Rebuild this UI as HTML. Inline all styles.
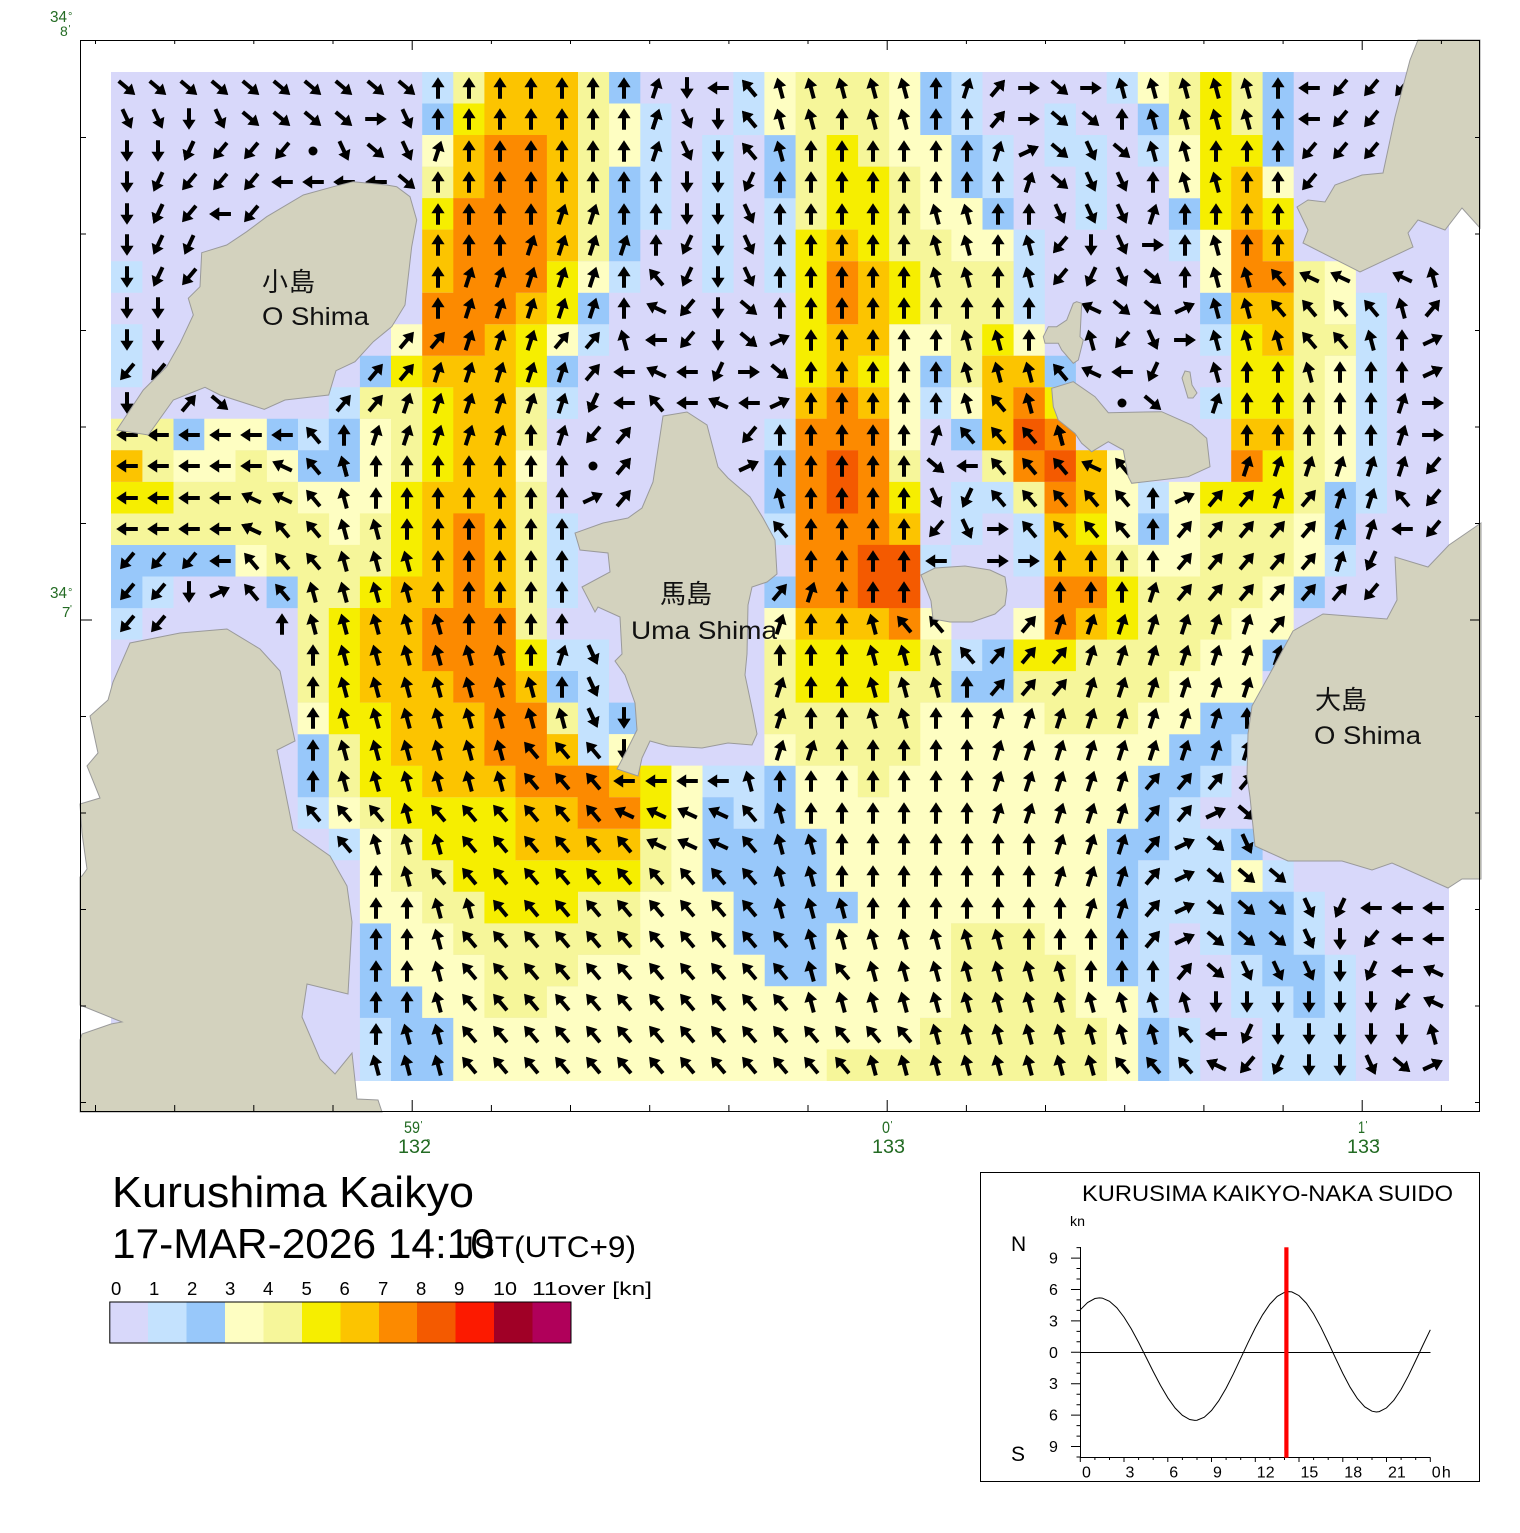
<!DOCTYPE html>
<html><head><meta charset="utf-8"><style>
html,body{margin:0;padding:0;background:#fff;}
svg{display:block;}
text{font-family:"Liberation Sans","Noto Sans CJK JP",sans-serif;}
.c{fill:none;stroke-width:31.6;stroke-linecap:butt;}
.ar{fill:none;stroke:none;}
</style></head><body>
<svg width="1520" height="1533" viewBox="0 0 1520 1533" xmlns="http://www.w3.org/2000/svg">
<defs>
<path id="ah" d="M0-10.8L6.6-.8H2V10.8H-2V-.8H-6.6Z"/>
<marker id="m8" markerUnits="userSpaceOnUse" orient="0" overflow="visible" viewBox="-15 -15 30 30" markerWidth="30" markerHeight="30" refX="0" refY="0"><use href="#ah" fill="#000"/></marker>
<marker id="m9" markerUnits="userSpaceOnUse" orient="0" overflow="visible" viewBox="-15 -15 30 30" markerWidth="30" markerHeight="30" refX="0" refY="0"><use href="#ah" fill="#000" transform="rotate(40)"/></marker>
<marker id="m6" markerUnits="userSpaceOnUse" orient="0" overflow="visible" viewBox="-15 -15 30 30" markerWidth="30" markerHeight="30" refX="0" refY="0"><use href="#ah" fill="#000" transform="rotate(90)"/></marker>
<marker id="m3" markerUnits="userSpaceOnUse" orient="0" overflow="visible" viewBox="-15 -15 30 30" markerWidth="30" markerHeight="30" refX="0" refY="0"><use href="#ah" fill="#000" transform="rotate(130)"/></marker>
<marker id="m2" markerUnits="userSpaceOnUse" orient="0" overflow="visible" viewBox="-15 -15 30 30" markerWidth="30" markerHeight="30" refX="0" refY="0"><use href="#ah" fill="#000" transform="rotate(180)"/></marker>
<marker id="m1" markerUnits="userSpaceOnUse" orient="0" overflow="visible" viewBox="-15 -15 30 30" markerWidth="30" markerHeight="30" refX="0" refY="0"><use href="#ah" fill="#000" transform="rotate(220)"/></marker>
<marker id="m4" markerUnits="userSpaceOnUse" orient="0" overflow="visible" viewBox="-15 -15 30 30" markerWidth="30" markerHeight="30" refX="0" refY="0"><use href="#ah" fill="#000" transform="rotate(270)"/></marker>
<marker id="m7" markerUnits="userSpaceOnUse" orient="0" overflow="visible" viewBox="-15 -15 30 30" markerWidth="30" markerHeight="30" refX="0" refY="0"><use href="#ah" fill="#000" transform="rotate(320)"/></marker>
<marker id="mr" markerUnits="userSpaceOnUse" orient="0" overflow="visible" viewBox="-15 -15 30 30" markerWidth="30" markerHeight="30" refX="0" refY="0"><use href="#ah" fill="#000" transform="rotate(18)"/></marker>
<marker id="ml" markerUnits="userSpaceOnUse" orient="0" overflow="visible" viewBox="-15 -15 30 30" markerWidth="30" markerHeight="30" refX="0" refY="0"><use href="#ah" fill="#000" transform="rotate(-15)"/></marker>
<marker id="ma" markerUnits="userSpaceOnUse" orient="0" overflow="visible" viewBox="-15 -15 30 30" markerWidth="30" markerHeight="30" refX="0" refY="0"><use href="#ah" fill="#000" transform="rotate(-65)"/></marker>
<marker id="mb" markerUnits="userSpaceOnUse" orient="0" overflow="visible" viewBox="-15 -15 30 30" markerWidth="30" markerHeight="30" refX="0" refY="0"><use href="#ah" fill="#000" transform="rotate(65)"/></marker>
<marker id="ms" markerUnits="userSpaceOnUse" orient="0" overflow="visible" viewBox="-15 -15 30 30" markerWidth="30" markerHeight="30" refX="0" refY="0"><use href="#ah" fill="#000" transform="rotate(155)"/></marker>
<marker id="mt" markerUnits="userSpaceOnUse" orient="0" overflow="visible" viewBox="-15 -15 30 30" markerWidth="30" markerHeight="30" refX="0" refY="0"><use href="#ah" fill="#000" transform="rotate(205)"/></marker>
</defs>
<rect x="0" y="0" width="1520" height="1533" fill="#fff"/>
<rect x="111" y="72" width="1338" height="1009" fill="#d8d8fa"/>
<!-- color 1 -->
<path class="c" stroke="#c4e2fe" d="M422.2 87.8h31.4M733.3 87.8h31.4M951.1 87.8h31.4M1106.7 87.8h31.4
M640 119.3h31.4M733.3 119.3h31.4M951.1 119.3h31.4M1044.5 119.3h31.4
M640 150.8h31.4M702.2 150.8h31.4M982.2 150.8h31.4M1044.5 150.8h62.5M1137.8 150.8h31.4
M640 182.4h31.4M702.2 182.4h31.4M982.2 182.4h31.4M1075.6 182.4h31.4
M640 213.9h31.4M702.2 213.9h31.4M764.4 213.9h31.4M1075.6 213.9h31.4
M702.2 245.4h31.4M764.4 245.4h31.4M1013.4 245.4h31.4M1168.9 245.4h31.4
M111 277h31.4M608.9 277h31.4M702.2 277h31.4M764.4 277h31.4M1013.4 277h31.4
M1013.4 308.5h31.4M1355.6 308.5h31.4
M111 340h31.4M577.7 340h31.4M1200.1 340h31.4M1355.6 340h31.4
M111 371.5h31.4M1355.6 371.5h31.4
M328.8 403.1h31.4M546.6 403.1h31.4M920 403.1h31.4M1200.1 403.1h31.4M1355.6 403.1h31.4
M297.7 434.6h31.4M764.4 434.6h31.4M1355.6 434.6h31.4
M1355.6 466.1h31.4
M951.1 497.7h62.5M1137.8 497.7h31.4M1355.6 497.7h31.4
M546.6 529.2h31.4M764.4 529.2h31.4M951.1 529.2h31.4M1013.4 529.2h31.4
M546.6 560.7h31.4M920 560.7h31.4M1013.4 560.7h31.4M1324.5 560.7h31.4
M142.1 592.3h31.4M546.6 592.3h31.4
M111 623.8h31.4
M546.6 655.3h62.5M951.1 655.3h31.4
M577.7 686.8h31.4
M577.7 718.4h31.4
M577.7 749.9h31.4M1231.2 749.9h31.4
M702.2 781.4h62.5M1200.1 781.4h31.4
M297.7 813h31.4M733.3 813h31.4M1168.9 813h31.4
M328.8 844.5h31.4M1168.9 844.5h62.5
M1137.8 876h93.6M1262.3 876h31.4
M1137.8 907.6h93.6M1293.4 907.6h31.4
M1137.8 939.1h31.4M1200.1 939.1h31.4M1293.4 939.1h31.4
M1137.8 970.6h31.4M1231.2 970.6h31.4M1324.5 970.6h31.4
M1137.8 1002.1h31.4M1231.2 1002.1h62.5M1324.5 1002.1h31.4
M359.9 1033.7h31.4M1168.9 1033.7h31.4M1262.3 1033.7h93.6
M359.9 1065.2h31.4M1168.9 1065.2h31.4M1262.3 1065.2h93.6"/>
<!-- color 2 -->
<path class="c" stroke="#98c8fa" d="M608.9 87.8h31.4M920 87.8h31.4M1262.3 87.8h31.4
M422.2 119.3h31.4M920 119.3h31.4M1137.8 119.3h31.4M1262.3 119.3h31.4
M764.4 150.8h31.4M951.1 150.8h31.4M1262.3 150.8h31.4
M608.9 182.4h31.4M764.4 182.4h31.4M951.1 182.4h31.4
M608.9 213.9h31.4M982.2 213.9h31.4M1168.9 213.9h31.4
M608.9 245.4h31.4
M577.7 308.5h31.4M1200.1 308.5h31.4
M359.9 371.5h31.4M546.6 371.5h31.4M920 371.5h31.4M1044.5 371.5h31.4
M173.2 434.6h31.4M266.6 434.6h31.4M328.8 434.6h31.4M951.1 434.6h31.4
M297.7 466.1h62.5M764.4 466.1h31.4
M764.4 497.7h31.4M1324.5 497.7h31.4
M1137.8 529.2h31.4M1324.5 529.2h31.4
M111 560.7h124.7
M111 592.3h31.4M266.6 592.3h31.4M764.4 592.3h31.4M1293.4 592.3h31.4
M982.2 655.3h31.4M1262.3 655.3h31.4
M546.6 686.8h31.4M951.1 686.8h62.5
M608.9 718.4h31.4M1200.1 718.4h62.5
M297.7 749.9h31.4M1168.9 749.9h62.5
M297.7 781.4h31.4M764.4 781.4h31.4M1137.8 781.4h62.5
M702.2 813h31.4M764.4 813h31.4M1137.8 813h31.4
M702.2 844.5h124.7M1106.7 844.5h62.5M1231.2 844.5h31.4
M702.2 876h124.7M1106.7 876h31.4
M733.3 907.6h124.7M1106.7 907.6h31.4M1231.2 907.6h62.5
M359.9 939.1h31.4M733.3 939.1h93.6M1106.7 939.1h31.4M1231.2 939.1h62.5
M359.9 970.6h31.4M764.4 970.6h62.5M1106.7 970.6h31.4M1262.3 970.6h62.5
M359.9 1002.1h62.5M1293.4 1002.1h31.4
M391 1033.7h62.5M1137.8 1033.7h31.4
M391 1065.2h62.5M1137.8 1065.2h31.4"/>
<!-- color 3 -->
<path class="c" stroke="#fefec2" d="M764.4 87.8h31.4M888.9 87.8h31.4M1137.8 87.8h31.4
M608.9 119.3h31.4M764.4 119.3h31.4M888.9 119.3h31.4
M422.2 150.8h31.4M608.9 150.8h31.4M888.9 150.8h62.5M1168.9 150.8h31.4
M920 182.4h31.4M1168.9 182.4h31.4M1262.3 182.4h31.4
M920 213.9h62.5
M951.1 245.4h62.5M1200.1 245.4h31.4
M577.7 277h31.4M1200.1 277h31.4M1324.5 277h31.4
M1324.5 308.5h31.4
M391 340h31.4M546.6 340h31.4M888.9 340h62.5M1013.4 340h31.4
M888.9 371.5h31.4M1324.5 371.5h31.4
M888.9 403.1h31.4M951.1 403.1h31.4M1324.5 403.1h31.4
M204.3 434.6h62.5M359.9 434.6h31.4M888.9 434.6h31.4M1324.5 434.6h31.4
M173.2 466.1h62.5M266.6 466.1h31.4M359.9 466.1h31.4M515.5 466.1h31.4M1106.7 466.1h31.4M1324.5 466.1h31.4
M297.7 497.7h93.6M1106.7 497.7h31.4M1168.9 497.7h31.4
M328.8 529.2h31.4M1106.7 529.2h31.4M1168.9 529.2h31.4M1293.4 529.2h31.4
M235.5 560.7h31.4M1137.8 560.7h62.5M1293.4 560.7h31.4
M1262.3 592.3h31.4
M764.4 623.8h31.4M920 623.8h31.4M1013.4 623.8h31.4M1231.2 623.8h62.5
M1200.1 655.3h62.5
M1168.9 686.8h93.6
M297.7 718.4h31.4M920 718.4h124.7M1137.8 718.4h62.5
M608.9 749.9h31.4M764.4 749.9h31.4M920 749.9h249.2
M671.1 781.4h31.4M795.6 781.4h62.5M888.9 781.4h249.2
M328.8 813h31.4M671.1 813h31.4M795.6 813h342.6
M359.9 844.5h31.4M671.1 844.5h31.4M826.7 844.5h280.3
M359.9 876h31.4M671.1 876h31.4M826.7 876h280.3M1231.2 876h31.4
M359.9 907.6h62.5M640 907.6h93.6M857.8 907.6h249.2
M391 939.1h62.5M640 939.1h93.6M826.7 939.1h124.7M1044.5 939.1h62.5
M391 970.6h93.6M577.7 970.6h187M826.7 970.6h124.7M1075.6 970.6h31.4
M422.2 1002.1h62.5M546.6 1002.1h404.8M1075.6 1002.1h62.5
M453.3 1033.7h467M1106.7 1033.7h31.4
M453.3 1065.2h373.7M1106.7 1065.2h31.4"/>
<!-- color 4 -->
<path class="c" stroke="#f6f69a" d="M453.3 87.8h31.4M577.7 87.8h31.4M795.6 87.8h93.6M1168.9 87.8h31.4M1231.2 87.8h31.4
M577.7 119.3h31.4M795.6 119.3h93.6M1168.9 119.3h31.4M1231.2 119.3h31.4
M577.7 150.8h31.4M795.6 150.8h31.4M857.8 150.8h31.4
M422.2 182.4h31.4M577.7 182.4h31.4M795.6 182.4h31.4M888.9 182.4h31.4
M577.7 213.9h31.4M795.6 213.9h31.4M888.9 213.9h31.4
M577.7 245.4h31.4M888.9 245.4h62.5
M920 277h93.6M1293.4 277h31.4
M920 308.5h93.6M1293.4 308.5h31.4
M951.1 340h31.4M1293.4 340h62.5
M951.1 371.5h31.4M1293.4 371.5h31.4
M359.9 403.1h62.5M515.5 403.1h31.4M1293.4 403.1h31.4
M111 434.6h62.5M391 434.6h31.4M515.5 434.6h31.4M1293.4 434.6h31.4
M142.1 466.1h31.4M235.5 466.1h31.4M391 466.1h31.4M888.9 466.1h31.4M982.2 466.1h31.4M1293.4 466.1h31.4
M173.2 497.7h124.7M515.5 497.7h31.4M1013.4 497.7h31.4M1293.4 497.7h31.4
M111 529.2h218.1M359.9 529.2h31.4M515.5 529.2h31.4M1200.1 529.2h93.6
M266.6 560.7h124.7M515.5 560.7h31.4M1106.7 560.7h31.4M1200.1 560.7h93.6
M297.7 592.3h62.5M515.5 592.3h31.4M1137.8 592.3h124.7
M297.7 623.8h31.4M515.5 623.8h31.4M1137.8 623.8h93.6
M297.7 655.3h31.4M764.4 655.3h31.4M920 655.3h31.4M1075.6 655.3h124.7
M297.7 686.8h31.4M764.4 686.8h31.4M888.9 686.8h62.5M1013.4 686.8h155.9
M546.6 718.4h31.4M764.4 718.4h155.9M1044.5 718.4h93.6
M328.8 749.9h31.4M795.6 749.9h124.7
M328.8 781.4h31.4M857.8 781.4h31.4
M359.9 813h31.4
M391 844.5h31.4M640 844.5h31.4
M391 876h62.5M640 876h31.4
M422.2 907.6h62.5M577.7 907.6h62.5
M453.3 939.1h187M951.1 939.1h93.6
M484.4 970.6h93.6M951.1 970.6h124.7
M484.4 1002.1h62.5M951.1 1002.1h124.7
M920 1033.7h187
M826.7 1065.2h280.3"/>
<!-- color 5 -->
<path class="c" stroke="#f6ee00" d="M1200.1 87.8h31.4
M453.3 119.3h31.4M1200.1 119.3h31.4
M826.7 150.8h31.4M1200.1 150.8h62.5
M826.7 182.4h62.5M1200.1 182.4h31.4
M422.2 213.9h31.4M826.7 213.9h62.5M1200.1 213.9h31.4M1262.3 213.9h31.4
M795.6 245.4h31.4M857.8 245.4h31.4
M546.6 277h31.4M795.6 277h31.4M888.9 277h31.4
M546.6 308.5h31.4M795.6 308.5h31.4M888.9 308.5h31.4
M515.5 340h31.4M795.6 340h31.4M982.2 340h31.4M1231.2 340h31.4
M391 371.5h31.4M515.5 371.5h31.4M795.6 371.5h31.4M857.8 371.5h31.4M1231.2 371.5h62.5
M422.2 403.1h31.4M1044.5 403.1h31.4M1231.2 403.1h62.5
M422.2 434.6h31.4
M422.2 466.1h31.4M1262.3 466.1h31.4
M111 497.7h62.5M391 497.7h31.4M888.9 497.7h31.4M1200.1 497.7h93.6
M391 529.2h31.4M1075.6 529.2h31.4
M391 560.7h31.4
M359.9 592.3h31.4M1106.7 592.3h31.4
M328.8 623.8h31.4M1106.7 623.8h31.4
M328.8 655.3h31.4M515.5 655.3h31.4M795.6 655.3h124.7M1013.4 655.3h62.5
M328.8 686.8h31.4M795.6 686.8h93.6
M328.8 718.4h62.5
M359.9 749.9h31.4
M359.9 781.4h62.5M640 781.4h31.4
M391 813h124.7M640 813h31.4
M422.2 844.5h93.6
M453.3 876h187
M484.4 907.6h93.6"/>
<!-- color 6 -->
<path class="c" stroke="#fcc400" d="M484.4 87.8h93.6
M484.4 119.3h93.6
M453.3 150.8h31.4M546.6 150.8h31.4
M453.3 182.4h31.4M546.6 182.4h31.4M1231.2 182.4h31.4
M546.6 213.9h31.4M1231.2 213.9h31.4
M422.2 245.4h31.4M546.6 245.4h31.4M826.7 245.4h31.4M1262.3 245.4h31.4
M422.2 277h31.4M857.8 277h31.4
M515.5 308.5h31.4M857.8 308.5h31.4M1231.2 308.5h62.5
M484.4 340h31.4M826.7 340h62.5M1262.3 340h31.4
M422.2 371.5h93.6M826.7 371.5h31.4M982.2 371.5h62.5
M453.3 403.1h62.5M795.6 403.1h31.4M857.8 403.1h31.4M982.2 403.1h31.4
M453.3 434.6h62.5M982.2 434.6h31.4M1231.2 434.6h62.5
M111 466.1h31.4M453.3 466.1h62.5M1075.6 466.1h31.4
M422.2 497.7h93.6M1075.6 497.7h31.4
M422.2 529.2h31.4M484.4 529.2h31.4M888.9 529.2h31.4M1044.5 529.2h31.4
M422.2 560.7h31.4M484.4 560.7h31.4M1044.5 560.7h62.5
M391 592.3h62.5M484.4 592.3h31.4
M359.9 623.8h62.5M795.6 623.8h93.6M1075.6 623.8h31.4
M359.9 655.3h62.5
M359.9 686.8h93.6M515.5 686.8h31.4
M391 718.4h93.6
M391 749.9h93.6M546.6 749.9h31.4
M422.2 781.4h93.6M608.9 781.4h31.4
M515.5 813h62.5
M515.5 844.5h124.7"/>
<!-- color 7 -->
<path class="c" stroke="#fc8a00" d="M484.4 150.8h62.5
M484.4 182.4h62.5
M453.3 213.9h93.6
M453.3 245.4h93.6M1231.2 245.4h31.4
M453.3 277h93.6M826.7 277h31.4M1231.2 277h62.5
M422.2 308.5h93.6M826.7 308.5h31.4
M422.2 340h62.5
M826.7 403.1h31.4M1013.4 403.1h31.4
M795.6 434.6h93.6M1044.5 434.6h31.4
M795.6 466.1h31.4M857.8 466.1h31.4M1013.4 466.1h31.4M1231.2 466.1h31.4
M795.6 497.7h31.4M857.8 497.7h31.4M1044.5 497.7h31.4
M453.3 529.2h31.4M795.6 529.2h93.6
M453.3 560.7h31.4M795.6 560.7h62.5
M453.3 592.3h31.4M795.6 592.3h62.5M1044.5 592.3h62.5
M422.2 623.8h93.6M888.9 623.8h31.4M1044.5 623.8h31.4
M422.2 655.3h93.6
M453.3 686.8h62.5
M484.4 718.4h62.5
M484.4 749.9h62.5
M515.5 781.4h93.6
M577.7 813h62.5"/>
<!-- color 8 -->
<path class="c" stroke="#f45a00" d="M1013.4 434.6h31.4M826.7 466.1h31.4M1044.5 466.1h31.4M826.7 497.7h31.4M857.8 560.7h62.5M857.8 592.3h62.5"/>
<!-- arrows -->
<path class="ar" marker-start="url(#m8)" marker-mid="url(#m8)" marker-end="url(#m8)" d="M438 88H469 500 531 562 593 624 936 1278M438 119H469 500 531 562 593 624 842 936 967 1122 1278M469 151H500 531 562 593 624 811 842 873 904 936 967 1216 1247 1278M438 182H469 500 531 562 593 624 656 780 811 842 873 904 936 967 998 1153 1247 1278M438 214H469 500 531 624 656 780 811 842 873 904 998 1029 1185 1216 1247 1278M438 245H469 500 656 780 811 842 873 904 998 1185 1247 1278M438 277H624 780 811 842 873 904 998 1185M438 308H624 780 811 842 873 904 936 967 998 1029M811 340H842 873 904 936 1029 1402M811 372H842 873 904 936 1247 1278 1340 1371 1402M811 403H842 873 904 936 1247 1278 1309 1340 1371M344 435H531 780 811 842 873 904 1247 1278 1309 1340 1371M376 466H407 438 469 500 531 562 780 811 842 873 904M376 498H407 438 469 500 531 562 811 842 873 904 1153M407 529H438 469 500 531 562 811 842 873 904 1153M438 561H469 500 531 562 811 842 873 904 1060 1091 1122 1153M438 592H469 500 531 562 842 873 904 1060 1091 1122M282 624H469 500 531 562 811 842M313 655H531 780 811 842M313 687H562 811 842 967M313 718H811 842 936 967 1247M313 750H842 873 904 936 967M313 781H780 811 842 873 904 936 967M811 813H842 873 904 936 967M842 844H873 904 936 967 998 1029M376 876H842 873 904 936 967 998 1029M376 908H407 873 904 936 967 998 1029 1060M376 939H407 1029 1060 1091 1122M376 971H407 1091 1122 1153M376 1002H407M376 1034h0"/>
<path class="ar" marker-start="url(#m9)" marker-mid="url(#m9)" marker-end="url(#m9)" d="M998 88h0M998 119h0M1433 308h0M407 340H438 562 593M376 372H407 593M189 403H344 376M624 435h0M624 466h0M624 498H1216 1247 1309M1185 529H1216 1247 1278 1309M1185 561H1216 1247 1278 1309M780 592H1185 1216 1247 1278 1309 1340M1029 624H1278M998 655H1029 1060M998 687H1029 1060M1153 781H1185 1216 1247M1153 813H1185M1153 844h0M1153 876h0M1153 908h0M1153 939h0M1185 971h0"/>
<path class="ar" marker-start="url(#m6)" marker-mid="url(#m6)" marker-end="url(#m6)" d="M1029 88H1091M376 119H1029M1153 245h0M1185 340h0M749 372h0M1433 403h0M1433 435h0M998 529h0M998 561H1029"/>
<path class="ar" marker-start="url(#m3)" marker-mid="url(#m3)" marker-end="url(#m3)" d="M127 88H158 189 220 251 282 313 344 376 407 1060M251 119H282 313 344 1060 1091M376 151H1060 1122M407 182H1060M1153 277h0M749 308H1122 1153M749 340h0M780 372h0M220 403H1153M936 466h0M1247 813h0M1216 844h0M1216 876H1247 1278M1216 908H1247 1278M1216 939H1247 1278M1216 971h0M1402 1065h0"/>
<path class="ar" marker-start="url(#m2)" marker-mid="url(#m2)" marker-end="url(#m2)" d="M687 88h0M189 119H718M127 151H158 718M127 182H687 718M127 214H687 718M127 245H718 1091M127 277H718M127 308H158 718M127 340H158 718M127 403h0M189 592h0M624 718h0M624 750h0M1340 939h0M1340 971h0M1216 1002H1247 1278 1309 1340 1371M1278 1034H1309 1340 1371 1402M1309 1065H1340"/>
<path class="ar" marker-start="url(#m1)" marker-mid="url(#m1)" marker-end="url(#m1)" d="M1340 88H1371 1402M1340 119H1371M220 151H251 282 1309 1340 1371M189 182H220 251 1309M189 214H251M1060 245h0M189 277H1060M687 308h0M687 340H1122M127 372H158M593 435H749M1433 466h0M1433 498h0M936 529H1433M127 561H158 189M127 592H158 1371M127 624H158M1371 939h0M1402 1002h0M1247 1065h0"/>
<path class="ar" marker-start="url(#m4)" marker-mid="url(#m4)" marker-end="url(#m4)" d="M718 88H1309M1309 119h0M282 182H313 344 376M220 214h0M656 340h0M624 372H687 1122M624 403H687 749M127 435H158 189 220 251 282M127 466H158 189 220 251 967M127 498H158 189 220M127 529H158 189 220 1402M220 561H936M624 781H656 687 718M1371 908H1402 1433M1402 939H1433M1402 971h0M1216 1034h0"/>
<path class="ar" marker-start="url(#m7)" marker-mid="url(#m7)" marker-end="url(#m7)" d="M749 88h0M749 119h0M749 151h0M656 277H1278M1278 308H1309 1340 1371M1309 340H1340M1060 372h0M656 403H998M313 435H967 998 1029M313 466H998 1029 1060 1122M313 498H998 1029 1060 1091 1122 1402M282 529H313 780 1029 1060 1091 1122M251 561H282 313M251 592H282M904 624H936M967 655h0M531 750H562 593M531 781H562 593M313 813H344 376 438 469 500 531 562 593 749M344 844H469 500 531 562 593 624 749M438 876H469 500 531 562 593 624 656 687 718 749M500 908H531 562 593 624 656 687 718 749M469 939H500 531 562 593 624 656 687 718 749 780M469 971H500 531 562 593 624 656 687 718 749 780 842M469 1002H500 531 562 593 624 656 687 718 749 780M469 1034H500 531 562 593 624 656 687 718 749 780 811 842 873 904 1185M469 1065H500 531 562 593 624 656 687 718 749 780 811 842 1122 1153 1185"/>
<path class="ar" marker-start="url(#mr)" marker-mid="url(#mr)" marker-end="url(#mr)" d="M656 88H967M656 119h0M438 151H656 998M1029 182h0M562 214H593 1153M531 245H562 593 624M469 277H500 531 562 593M469 308H500 531 562 593M469 340H500 531M438 372H469 500 531 562M407 403H438 469 500 531 562 1216 1402M376 435H407 438 469 500 562 936 1402M1247 466H1278 1309 1340 1371 1402M1278 498H1340 1371M1340 529H1371M1340 561h0M811 592H1153M780 624H1060 1091 1122 1153 1185 1216 1247M562 655H1091 1122 1153 1185 1216 1247 1278M780 687H1091 1122 1153 1185 1216 1247M780 718H998 1029 1060 1091 1122 1153 1185 1216M780 750H811 998 1029 1060 1091 1122 1153 1185 1216 1247M998 781H1029 1060 1091 1122M998 813H1029 1060 1091 1122M1060 844H1091 1122M1060 876H1091 1122M1091 908H1122"/>
<path class="ar" marker-start="url(#ml)" marker-mid="url(#ml)" marker-end="url(#ml)" d="M780 88H811 842 873 904 1122 1153 1185 1216 1247M780 119H811 873 904 1153 1185 1216 1247M780 151H1153 1185M1185 182H1216M936 214H967M936 245H967 1029 1216M936 277H967 1029 1216 1247 1433M1216 308H1247 1402M624 340H967 998 1091 1216 1247 1278 1371M967 372H998 1029 1216 1309M967 403H1029M1060 435h0M344 466h0M344 498H780M344 529H376M344 561H376 407M313 592H344 376 407M313 624H344 376 407 438 873M344 655H376 407 438 469 500 873 904 936M344 687H376 407 438 469 500 531 873 904 936M344 718H376 407 438 469 500 531 562 873 904M344 750H376 407 438 469 500M344 781H376 407 438 469 500 749M407 813H780M376 844H407 438 780 811M407 876H780 811M438 908H469 780 811 842M438 939H811 842 873 904 936 967 998M438 971H811 873 904 936 967 998 1029 1060M438 1002H811 842 873 904 936 967 998 1029 1060 1091 1122 1153 1185M407 1034H438 936 967 998 1029 1060 1091 1122 1153 1433M376 1065H407 438 873 904 936 967 998 1029 1060 1091"/>
<path class="ar" marker-start="url(#ma)" marker-mid="url(#ma)" marker-end="url(#ma)" d="M1309 277H1340 1402M656 308H1091M656 372H1091M718 403h0M282 466H1091M251 498H282M251 529h0M624 813H656 687 718M656 844H687 718M1433 971h0M1433 1002h0M1216 1065h0"/>
<path class="ar" marker-start="url(#mb)" marker-mid="url(#mb)" marker-end="url(#mb)" d="M1029 151h0M1185 308h0M780 340H1433M1433 372h0M780 403h0M749 466h0M593 498H1185M220 592h0M1216 813h0M1185 844h0M1185 876h0M1185 908h0M1185 939h0M1433 1065h0"/>
<path class="ar" marker-start="url(#ms)" marker-mid="url(#ms)" marker-end="url(#ms)" d="M127 119H158 220 407 687M344 151H407 687 1091M1091 182H1122M749 214H1060 1091 1122M749 245H1122M749 277H1122M1153 340h0M936 498h0M967 529h0M593 655h0M593 687h0M593 718h0M1247 844h0M1309 908h0M1309 939h0M1247 971H1278 1309M1371 1065h0"/>
<path class="ar" marker-start="url(#mt)" marker-mid="url(#mt)" marker-end="url(#mt)" d="M189 151h0M158 182H749M158 214h0M158 245H189 687M158 277H687 1091M718 372H1153M593 403h0M967 498h0M1371 561h0M1340 908h0M1371 971h0M1247 1034h0M1278 1065h0"/>
<circle cx="313" cy="151" r="4.5" fill="#000"/>
<circle cx="1122" cy="403" r="4.5" fill="#000"/>
<circle cx="593" cy="466" r="4.5" fill="#000"/>
<!-- land -->
<g fill="#d3d2be" stroke="#9a9a9a" stroke-width="1">
<polygon points="116.7,430 148.3,435 173.3,400 205,387.3 220,395 264.3,409.3 285,400 328.7,395 336,370.7 355,361.7 373.3,341.7 391.7,326.7 405,305 411.7,246.7 416.7,220 410,196.7 396.7,186.7 386.7,185 353.3,181.7 333.3,186.7 303.3,195 266.7,216.7 246.7,231.7 226.7,245 201.7,252.7 200,286.7 188.3,298.3 193.3,315 180,343.3 166.7,366.7 143.3,390"/>
<polygon points="663,416 687,412 707,425 718,467 728,478 750,497 763,518 775,540 777,574 767,582 752,587 748,605 747,654 745,675 753,713 757,734 752,745 728,743 702,748 668,746 650,741 642,758 638,776 617,769 627,750 637,730 635,703 625,675 615,661 622,654 620,617 598,607 595,612 582,587 610,572 608,553 580,550 575,533 603,523 628,518 642,508 653,482"/>
<polygon points="921,575 935,568 965,566 990,570 1005,577 1007,590 1005,605 995,614 972,622 950,622 933,619 931,601"/>
<polygon points="1051.7,388.3 1073.3,381.7 1095,396.7 1108.3,412.7 1161.7,411.7 1191.7,425 1206.7,438.3 1210,466.7 1188.3,476.7 1131.7,483.3 1128.3,476.7 1123.3,450 1108.3,441.7 1091.7,451.7 1081.7,443.3 1075,433.3 1058.3,420 1053.3,406.7"/>
<polygon points="1076.7,301.7 1081.7,303.3 1080,336.7 1083.3,340 1078.3,360 1073.3,363.3 1061.7,350 1058.3,343.3 1045,343.3 1043.3,336.7 1048.3,326.7 1056.7,326.7 1066.7,320 1070,311.7 1073.3,303.3"/>
<polygon points="1185,371 1190,372 1192,385 1197,393 1193,398 1188,398 1185,388 1182,378"/>
<polygon points="1418,40 1480,40 1480,228 1462,208 1445,230 1418,220 1408,233 1413,247 1360,272 1303,243 1308,230 1297,207 1308,200 1325,202 1335,185 1362,175 1383,173 1395,117 1410,60"/>
<polygon points="1481,523 1449,545 1428,567 1395,557 1397,600 1387,619 1323,614 1293,631 1273,668 1252,706 1248,734 1247,776 1250,797 1255,846 1288,861 1342,861 1372,870 1392,863 1448,888 1462,879 1481,879"/>
<polygon points="80,1112 80,1040 82,1034 111,1024 122,1022 80,1005 80,877 82,876 87,869 82,833 80,804 100,798 87,766 98,753 90,716 108,700 113,682 130,643 180,633 227,629 260,649 280,671 295,741 277,750 293,830 330,856 347,886 352,922 348,994 307,984 302,1017 320,1059 335,1074 352,1053 357,1099 378,1100 382,1112"/>
</g>
<!-- island labels -->
<g fill="#111">
<text x="262" y="291" font-size="26" textLength="53">小島</text>
<text x="262" y="325" font-size="25" textLength="107" lengthAdjust="spacingAndGlyphs">O Shima</text>
<text x="660" y="603" font-size="26" textLength="52">馬島</text>
<text x="631" y="639" font-size="25" textLength="146" lengthAdjust="spacingAndGlyphs">Uma Shima</text>
<text x="1315" y="709" font-size="26" textLength="52">大島</text>
<text x="1314" y="744" font-size="25" textLength="107" lengthAdjust="spacingAndGlyphs">O Shima</text>
</g>
<!-- frame & ticks -->
<rect x="80.5" y="40.5" width="1399" height="1071" fill="none" stroke="#000" stroke-width="1"/>
<path fill="none" stroke="#000" stroke-width="1" d="M95.5 1112v-7M174.7 1112v-7M253.8 1112v-7M333 1112v-7M412.2 1112v-12M491.4 1112v-7M570.5 1112v-7M649.7 1112v-7M728.9 1112v-7M808 1112v-7M887.2 1112v-12M966.4 1112v-7M1045.5 1112v-7M1124.7 1112v-7M1203.9 1112v-7M1283.1 1112v-7M1362.2 1112v-12M1441.4 1112v-7
M95.5 40v4M174.7 40v4M253.8 40v4M333 40v4M412.2 40v10M491.4 40v4M570.5 40v4M649.7 40v4M728.9 40v4M808 40v4M887.2 40v10M966.4 40v4M1045.5 40v4M1124.7 40v4M1203.9 40v4M1283.1 40v4M1362.2 40v10M1441.4 40v4
M80 137.5h6M80 234h6M80 330.5h6M80 427h6M80 523.5h6M80 620h12M80 716.5h6M80 813h6M80 909.5h6M80 1006h6M80 1102.5h6
M1480 137.5h-5M1480 234h-5M1480 330.5h-5M1480 427h-5M1480 523.5h-5M1480 620h-10M1480 716.5h-5M1480 813h-5M1480 909.5h-5M1480 1006h-5M1480 1102.5h-5"/>
<!-- axis labels -->
<g fill="#236b23">
<text x="50" y="22" font-size="16" textLength="17" lengthAdjust="spacingAndGlyphs">34</text>
<text x="68" y="20" font-size="11">°</text>
<text x="60" y="36" font-size="14">8</text>
<text x="68.5" y="32" font-size="10">'</text>
<text x="50" y="598" font-size="16" textLength="17" lengthAdjust="spacingAndGlyphs">34</text>
<text x="68" y="596" font-size="11">°</text>
<text x="62" y="617" font-size="15">7</text>
<text x="70" y="612" font-size="10">'</text>
<text x="404" y="1133" font-size="17" textLength="16" lengthAdjust="spacingAndGlyphs">59</text>
<text x="420.5" y="1128" font-size="10">'</text>
<text x="398" y="1153" font-size="19" textLength="33" lengthAdjust="spacingAndGlyphs">132</text>
<text x="426" y="1147" font-size="11">°</text>
<text x="882" y="1133" font-size="17" textLength="8" lengthAdjust="spacingAndGlyphs">0</text>
<text x="890.5" y="1128" font-size="10">'</text>
<text x="872" y="1153" font-size="19" textLength="33" lengthAdjust="spacingAndGlyphs">133</text>
<text x="900" y="1147" font-size="11">°</text>
<text x="1358" y="1133" font-size="17" textLength="7" lengthAdjust="spacingAndGlyphs">1</text>
<text x="1365.5" y="1128" font-size="10">'</text>
<text x="1347" y="1153" font-size="19" textLength="33" lengthAdjust="spacingAndGlyphs">133</text>
<text x="1375" y="1147" font-size="11">°</text>
</g>
<!-- title -->
<text x="112" y="1207" font-size="44" textLength="362" lengthAdjust="spacingAndGlyphs" fill="#000">Kurushima Kaikyo</text>
<text x="112" y="1258" font-size="42" textLength="382" lengthAdjust="spacingAndGlyphs" fill="#000">17-MAR-2026 14:10</text>
<text x="458" y="1257" font-size="30" textLength="178" lengthAdjust="spacingAndGlyphs" fill="#000">JST(UTC+9)</text>
<!-- legend -->
<g shape-rendering="crispEdges">
<rect x="109.8" y="1302" width="38.9" height="41" fill="#d8d8fa"/>
<rect x="148.2" y="1302" width="38.9" height="41" fill="#c4e2fe"/>
<rect x="186.7" y="1302" width="38.9" height="41" fill="#98c8fa"/>
<rect x="225.1" y="1302" width="38.9" height="41" fill="#fefec2"/>
<rect x="263.5" y="1302" width="38.9" height="41" fill="#f6f69a"/>
<rect x="302" y="1302" width="38.9" height="41" fill="#f6ee00"/>
<rect x="340.4" y="1302" width="38.9" height="41" fill="#fcc400"/>
<rect x="378.8" y="1302" width="38.9" height="41" fill="#fc8a00"/>
<rect x="417.2" y="1302" width="38.9" height="41" fill="#f45a00"/>
<rect x="455.7" y="1302" width="38.9" height="41" fill="#fc1a00"/>
<rect x="494.1" y="1302" width="38.9" height="41" fill="#a00026"/>
<rect x="532.5" y="1302" width="38.5" height="41" fill="#b0005a"/>
</g>
<rect x="109.8" y="1302" width="461.2" height="41" fill="none" stroke="#000" stroke-width="1"/>
<g font-size="18.5" fill="#000">
<text x="111" y="1295">0</text><text x="149" y="1295">1</text><text x="187" y="1295">2</text><text x="225" y="1295">3</text>
<text x="263" y="1295">4</text><text x="301.5" y="1295">5</text><text x="339.5" y="1295">6</text><text x="378" y="1295">7</text>
<text x="416" y="1295">8</text><text x="454" y="1295">9</text><text x="493" y="1295" textLength="24" lengthAdjust="spacingAndGlyphs">10</text>
<text x="532" y="1295" textLength="120" lengthAdjust="spacingAndGlyphs">11over [kn]</text>
</g>
<!-- tide chart -->
<rect x="980.5" y="1172.5" width="499" height="309" fill="#fff" stroke="#000" stroke-width="1"/>
<text x="1082" y="1201" font-size="22" textLength="371" lengthAdjust="spacingAndGlyphs" fill="#000">KURUSIMA KAIKYO-NAKA SUIDO</text>
<text x="1070" y="1226" font-size="14" textLength="15" lengthAdjust="spacingAndGlyphs" fill="#000">kn</text>
<text x="1011" y="1251" font-size="21" fill="#000">N</text>
<text x="1011" y="1461" font-size="21" fill="#000">S</text>
<path fill="none" stroke="#000" stroke-width="1" d="M1080.5 1247V1458M1080 1457.5H1430.5M1080 1352.5H1430.5
M1076.5 1247.6H1080.5M1071 1258.1H1080.5M1076.5 1268.5H1080.5M1076.5 1279H1080.5M1071 1289.5H1080.5M1076.5 1299.9H1080.5M1076.5 1310.4H1080.5M1071 1320.9H1080.5M1076.5 1331.4H1080.5M1076.5 1341.8H1080.5M1071 1352.3H1080.5M1076.5 1362.8H1080.5M1076.5 1373.2H1080.5M1071 1383.7H1080.5M1076.5 1394.2H1080.5M1076.5 1404.7H1080.5M1071 1415.1H1080.5M1076.5 1425.6H1080.5M1076.5 1436.1H1080.5M1071 1446.5H1080.5M1076.5 1457H1080.5
M1080.3 1457.5v4.5M1094.9 1457.5v2.5M1109.5 1457.5v2.5M1124 1457.5v4.5M1138.6 1457.5v2.5M1153.2 1457.5v2.5M1167.8 1457.5v4.5M1182.4 1457.5v2.5M1197 1457.5v2.5M1211.5 1457.5v4.5M1226.1 1457.5v2.5M1240.7 1457.5v2.5M1255.3 1457.5v4.5M1269.9 1457.5v2.5M1284.5 1457.5v2.5M1299 1457.5v4.5M1313.6 1457.5v2.5M1328.2 1457.5v2.5M1342.8 1457.5v4.5M1357.4 1457.5v2.5M1372 1457.5v2.5M1386.5 1457.5v4.5M1401.1 1457.5v2.5M1415.7 1457.5v2.5M1430.3 1457.5v4.5"/>
<g font-size="16" fill="#000" text-anchor="middle">
<text x="1053.5" y="1263.6">9</text><text x="1053.5" y="1295">6</text><text x="1053.5" y="1326.4">3</text><text x="1053.5" y="1357.8">0</text><text x="1053.5" y="1389.2">3</text><text x="1053.5" y="1420.6">6</text><text x="1053.5" y="1452">9</text>
</g>
<g font-size="16" fill="#000">
<text x="1082" y="1477.7">0</text><text x="1125.5" y="1477.7">3</text><text x="1169.3" y="1477.7">6</text><text x="1213" y="1477.7">9</text>
<text x="1256.8" y="1477.7">12</text><text x="1300.5" y="1477.7">15</text><text x="1344.3" y="1477.7">18</text><text x="1388" y="1477.7">21</text>
<text x="1431.8" y="1477.7" textLength="19" lengthAdjust="spacing">0 h</text>
</g>
<polyline fill="none" stroke="#000" stroke-width="1" points="1080.3,1309.8 1087.6,1302.5 1094.9,1298.5 1099.3,1297.9 1102.2,1298.1 1109.5,1301.3 1116.8,1307.7 1124,1317.1 1131.3,1328.9 1138.6,1342.4 1145.9,1356.9 1153.2,1371.5 1160.5,1385.4 1167.8,1397.8 1175.1,1408 1182.4,1415.3 1189.7,1419.5 1194.8,1420.4 1197,1420.2 1204.3,1417.2 1211.5,1410.5 1218.8,1400.7 1226.1,1388.2 1233.4,1373.8 1240.7,1358.3 1248,1342.7 1255.3,1327.9 1262.6,1314.8 1269.9,1304.1 1277.2,1296.4 1284.5,1292.3 1288.8,1291.6 1291.8,1291.9 1299,1295.6 1306.3,1303.1 1313.6,1313.9 1320.9,1327.3 1328.2,1342.4 1335.5,1358.1 1342.8,1373.4 1350.1,1387.2 1357.4,1398.6 1364.7,1406.8 1372,1411.2 1376.3,1412 1379.3,1411.6 1386.5,1407.9 1393.8,1400.3 1401.1,1389.4 1408.4,1375.8 1415.7,1360.6 1423,1345 1430.3,1329.8"/>
<rect x="1284.3" y="1247.3" width="4.2" height="210.4" fill="#ff0000"/>
</svg>
</body></html>
